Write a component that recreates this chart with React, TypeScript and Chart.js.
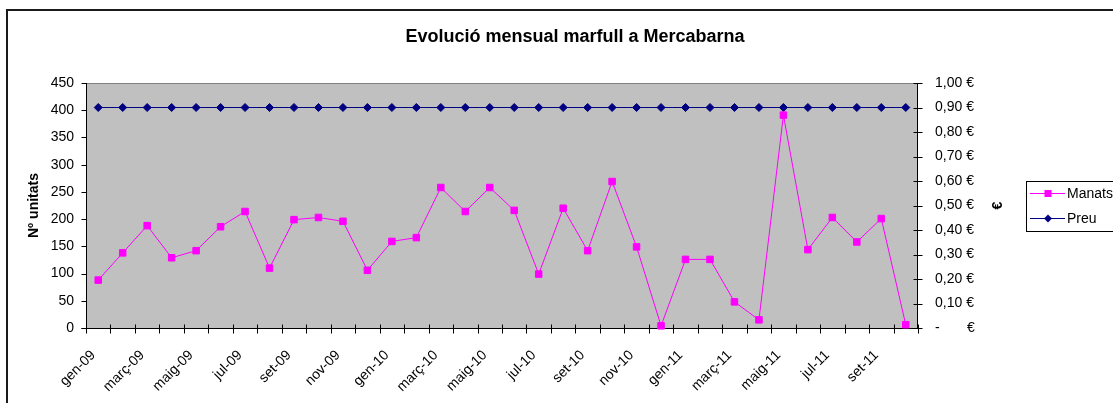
import { useEffect, useRef } from 'react';
import { Chart, registerables } from 'chart.js';

Chart.register(...registerables);

const TITLE = 'Evolució mensual marfull a Mercabarna';
const LEFT_TITLE = 'Nº unitats';
const RIGHT_TITLE = '€';

const categories = [
  'gen-09', 'febr-09', 'març-09', 'abr-09', 'maig-09', 'juny-09', 'jul-09', 'ag-09', 'set-09', 'oct-09', 'nov-09', 'des-09',
  'gen-10', 'febr-10', 'març-10', 'abr-10', 'maig-10', 'juny-10', 'jul-10', 'ag-10', 'set-10', 'oct-10', 'nov-10', 'des-10',
  'gen-11', 'febr-11', 'març-11', 'abr-11', 'maig-11', 'juny-11', 'jul-11', 'ag-11', 'set-11', 'oct-11',
];

const manats = [
  88, 138, 188, 129, 142, 186, 214, 110, 199, 203, 196, 106,
  159, 166, 258, 214, 258, 216, 99, 220, 142, 269, 149, 4,
  126, 126, 48, 15, 391, 144, 203, 158, 201, 6,
];

const preu = [
  0.9, 0.9, 0.9, 0.9, 0.9, 0.9, 0.9, 0.9, 0.9, 0.9, 0.9, 0.9,
  0.9, 0.9, 0.9, 0.9, 0.9, 0.9, 0.9, 0.9, 0.9, 0.9, 0.9, 0.9,
  0.9, 0.9, 0.9, 0.9, 0.9, 0.9, 0.9, 0.9, 0.9, 0.9,
];

const legendLabels = ['Manats', 'Preu'];

const FONT = "'Liberation Sans', Arial, sans-serif";
const MAGENTA = '#FF00FF';
const NAVY = '#000080';

const decor = {
  id: 'decor',
  beforeDraw(chart: any) {
    const { ctx, chartArea: a } = chart;
    ctx.save();
    ctx.fillStyle = '#ffffff';
    ctx.fillRect(0, 0, chart.width, chart.height);
    ctx.strokeStyle = '#1a1a1a';
    ctx.lineWidth = 2;
    ctx.strokeRect(7, 10, chart.width + 40, chart.height + 40);
    ctx.fillStyle = '#C0C0C0';
    ctx.fillRect(a.left, a.top, a.right - a.left, a.bottom - a.top);
    ctx.restore();
  },
  beforeDatasetsDraw(chart: any) {
    const { ctx, chartArea: a, scales } = chart;
    const xs = scales.x;
    const yl = scales.y;
    const yr = scales.y1;
    ctx.save();
    ctx.lineWidth = 1;
    ctx.strokeStyle = '#808080';
    ctx.beginPath();
    ctx.moveTo(a.left, Math.round(a.top) + 0.5);
    ctx.lineTo(a.right, Math.round(a.top) + 0.5);
    ctx.stroke();
    ctx.strokeStyle = '#000000';
    const L = Math.round(a.left) + 0.5;
    const R = Math.round(a.right) - 0.5;
    const B = Math.round(a.bottom) + 0.5;
    const T = Math.round(a.top);
    ctx.beginPath();
    ctx.moveTo(L, T);
    ctx.lineTo(L, B);
    ctx.moveTo(R, T);
    ctx.lineTo(R, B);
    ctx.moveTo(L - 5, B);
    ctx.lineTo(R + 4, B);
    yl.ticks.forEach((t: any) => {
      const y = Math.round(yl.getPixelForValue(t.value)) + 0.5;
      ctx.moveTo(L - 5, y);
      ctx.lineTo(L, y);
    });
    yr.ticks.forEach((t: any) => {
      const y = Math.round(yr.getPixelForValue(t.value)) + 0.5;
      ctx.moveTo(R - 4, y);
      ctx.lineTo(R + 5, y);
    });
    for (let i = 0; i <= categories.length; i++) {
      const x = Math.round(xs.getPixelForValue(i - 0.5)) + 0.5;
      ctx.moveTo(x, B - 4);
      ctx.lineTo(x, B + 5);
    }
    ctx.stroke();
    ctx.restore();
  },
  afterDraw(chart: any) {
    const { ctx, chartArea: a } = chart;
    ctx.save();
    ctx.fillStyle = '#000000';
    ctx.font = `bold 18px ${FONT}`;
    ctx.textAlign = 'center';
    ctx.textBaseline = 'alphabetic';
    ctx.fillText(TITLE, 575, 42);
    const midY = (a.top + a.bottom) / 2;
    ctx.font = `bold 14px ${FONT}`;
    ctx.save();
    ctx.translate(37.5, midY);
    ctx.rotate(-Math.PI / 2);
    ctx.fillText(LEFT_TITLE, 0, 0);
    ctx.restore();
    ctx.save();
    ctx.translate(1002, midY);
    ctx.rotate(-Math.PI / 2);
    ctx.fillText(RIGHT_TITLE, 0, 0);
    ctx.restore();
    const lx = 1026.5;
    const ly = 181.5;
    ctx.strokeStyle = '#000000';
    ctx.lineWidth = 1;
    ctx.strokeRect(lx, ly, 140, 50);
    const rows = [
      { label: legendLabels[0], color: MAGENTA, y: 193.5, shape: 'rect' },
      { label: legendLabels[1], color: NAVY, y: 218.5, shape: 'diamond' },
    ];
    ctx.font = `14px ${FONT}`;
    ctx.textAlign = 'left';
    ctx.textBaseline = 'middle';
    rows.forEach((r) => {
      ctx.strokeStyle = r.color;
      ctx.beginPath();
      ctx.moveTo(1030, r.y);
      ctx.lineTo(1065, r.y);
      ctx.stroke();
      ctx.fillStyle = r.color;
      if (r.shape === 'rect') {
        ctx.fillRect(1044.5, r.y - 3.5, 7, 7);
      } else {
        ctx.beginPath();
        ctx.moveTo(1048, r.y - 4);
        ctx.lineTo(1052, r.y);
        ctx.lineTo(1048, r.y + 4);
        ctx.lineTo(1044, r.y);
        ctx.closePath();
        ctx.fill();
      }
      ctx.fillStyle = '#000000';
      ctx.fillText(r.label, 1067, r.y + 0.5);
    });
    ctx.restore();
  },
};

export default function App() {
  const canvasRef = useRef<HTMLCanvasElement | null>(null);

  useEffect(() => {
    if (!canvasRef.current) return;
    Chart.defaults.font.family = FONT;
    Chart.defaults.color = '#000000';
    const chart = new Chart(canvasRef.current, {
      type: 'line',
      data: {
        labels: categories,
        datasets: [
          {
            label: legendLabels[0],
            data: manats,
            yAxisID: 'y',
            borderColor: MAGENTA,
            backgroundColor: MAGENTA,
            borderWidth: 1,
            pointStyle: 'rect',
            pointRadius: 4.6,
            pointBorderWidth: 1,
            pointBackgroundColor: MAGENTA,
            pointBorderColor: MAGENTA,
            tension: 0,
            clip: false as any,
            order: 1,
          },
          {
            label: legendLabels[1],
            data: preu,
            yAxisID: 'y1',
            borderColor: NAVY,
            backgroundColor: NAVY,
            borderWidth: 1,
            pointStyle: 'rectRot',
            pointRadius: 4,
            pointBorderWidth: 1,
            pointBackgroundColor: NAVY,
            pointBorderColor: NAVY,
            tension: 0,
            clip: false as any,
            order: 2,
          },
        ],
      },
      options: {
        responsive: false,
        animation: false,
        events: [],
        layout: { padding: { top: 83, left: 0, right: 0, bottom: 0 } },
        plugins: {
          legend: { display: false },
          title: { display: false },
          tooltip: { enabled: false },
        },
        scales: {
          x: {
            type: 'category',
            offset: true,
            grid: { display: false, drawTicks: false, offset: true },
            border: { display: false },
            ticks: {
              autoSkip: false,
              maxRotation: 45,
              minRotation: 45,
              padding: 19,
              labelOffset: -5,
              font: { size: 14, family: FONT },
              color: '#000000',
              callback: (_v: any, i: number) => (i % 2 === 0 ? categories[i] : ''),
            },
            afterFit: (s: any) => {
              s.height = 75;
            },
          },
          y: {
            position: 'left',
            min: 0,
            max: 450,
            grid: { display: false, drawTicks: false },
            border: { display: false },
            ticks: {
              stepSize: 50,
              padding: 12,
              font: { size: 14, family: FONT },
              color: '#000000',
            },
            afterFit: (s: any) => {
              s.width = 86;
            },
          },
          y1: {
            position: 'right',
            min: 0,
            max: 1,
            grid: { display: false, drawTicks: false },
            border: { display: false },
            ticks: {
              stepSize: 0.1,
              padding: 17,
              font: { size: 14, family: FONT },
              color: '#000000',
              callback: (v: any) => {
                const n = Number(v);
                if (Math.abs(n) < 1e-9) return '-       €';
                return n.toFixed(2).replace('.', ',') + ' €';
              },
            },
            afterFit: (s: any) => {
              s.width = 195;
            },
          },
        },
      },
      plugins: [decor],
    });
    return () => chart.destroy();
  }, []);

  return (
    <div style={{ position: 'fixed', left: 0, top: 0, width: 1113, height: 403, overflow: 'hidden', background: '#fff' }}>
      <canvas ref={canvasRef} width={1113} height={403} style={{ display: 'block' }} />
    </div>
  );
}
